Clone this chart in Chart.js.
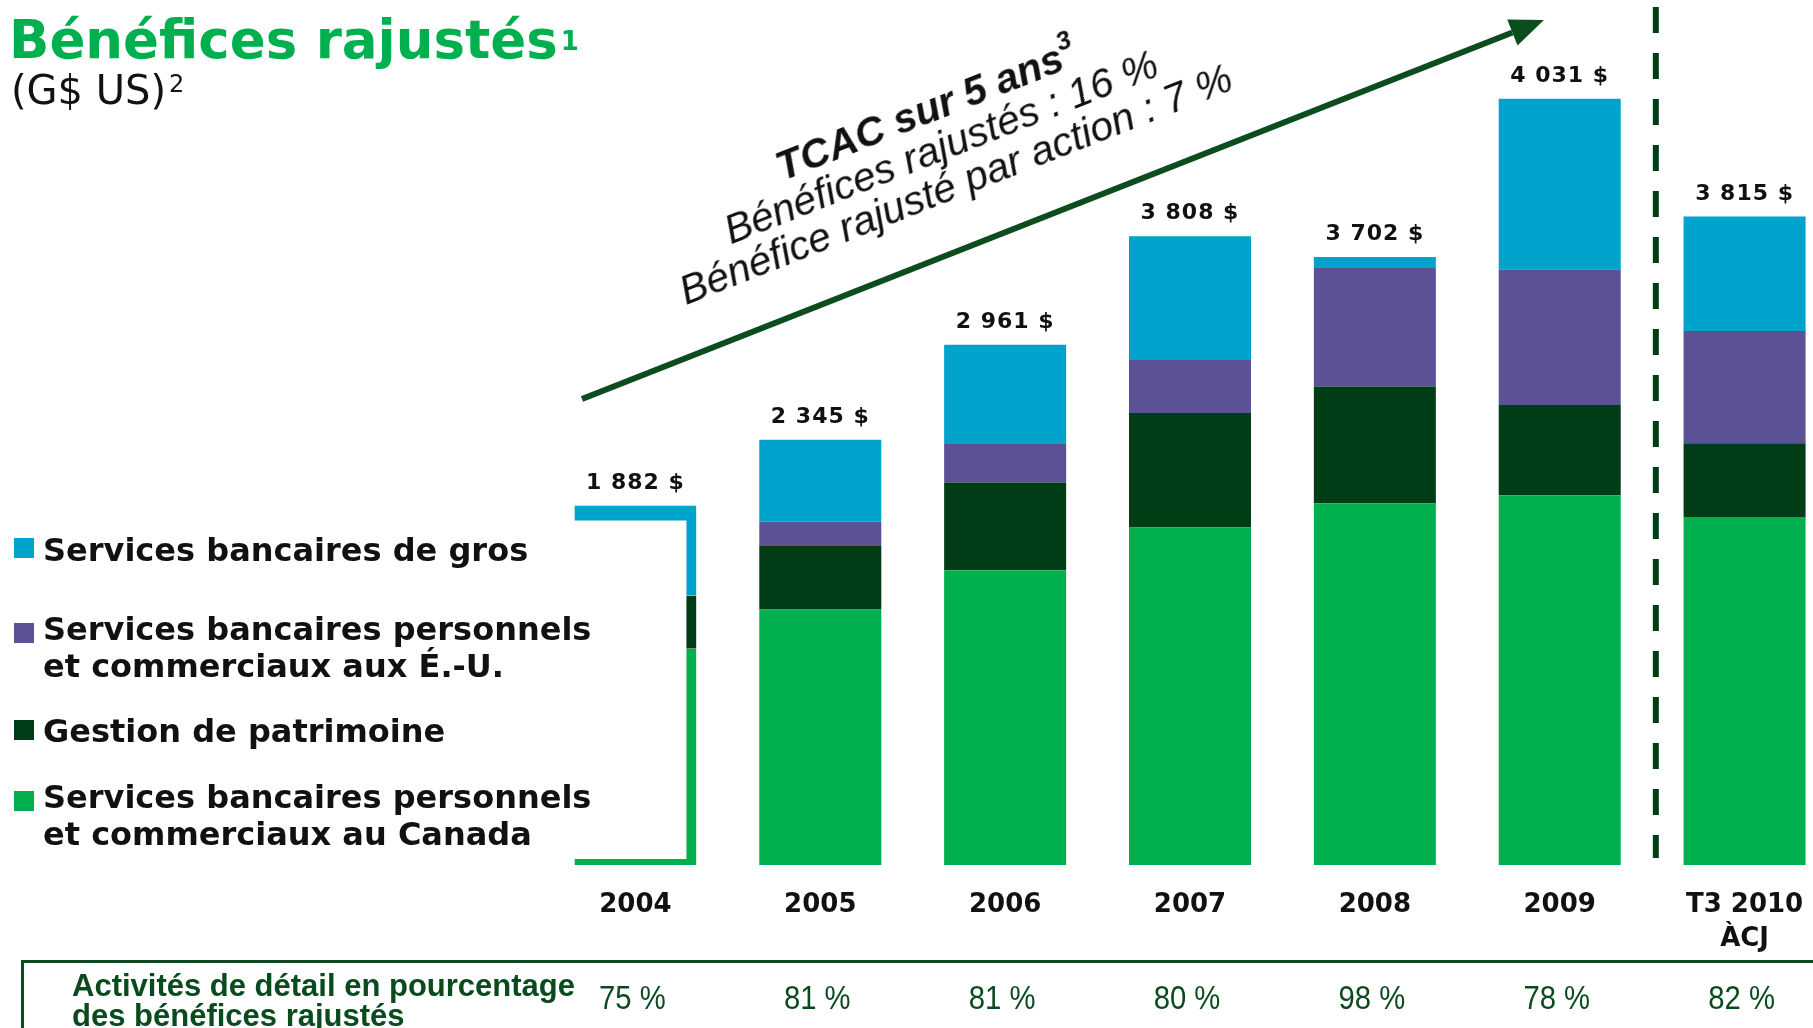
<!DOCTYPE html>
<html lang="fr">
<head>
<meta charset="utf-8">
<title>Bénéfices rajustés</title>
<script src="https://cdn.jsdelivr.net/npm/chart.js@4.4.0/dist/chart.umd.min.js"></script>
<style>
    html, body { margin: 0; padding: 0; width: 1813px; height: 1028px; overflow: hidden; background: #fff; }
    #wrap { position: relative; width: 1813px; height: 1028px; overflow: hidden; }
    #chart { position: absolute; left: 0; top: 0; }
    .title { position: absolute; left: 9px; top: 13px; font: bold 53px/53px "DejaVu Sans"; color: #00b04f; white-space: nowrap; }
    .title sup { font-size: 26px; vertical-align: top; position: relative; top: 2px; margin-left: 3px; }
    .subtitle { position: absolute; left: 11px; top: 70px; font: 40px/40px "DejaVu Sans"; color: #111; white-space: nowrap; }
    .subtitle sup { font-size: 24px; vertical-align: top; position: relative; top: -6px; margin-left: 3px; }
    .legend-item { position: absolute; left: 43px; font: bold 32px/37px "DejaVu Sans"; color: #111; white-space: nowrap; }
    .swatch { position: absolute; left: 14px; width: 20px; height: 20px; }
    .cagr { position: absolute; left: 579px; top: 77px; width: 720px; text-align: center;
            font: italic 41px/40px "Liberation Sans"; color: #111; transform: rotate(-21.5deg); transform-origin: 50% 50%; white-space: nowrap; }
    .cagr b sup { font-size: 26px; position: relative; top: -4px; }
    .table-box { position: absolute; left: 21px; top: 960px; width: 1800px; height: 80px;
                 border-top: 3px solid #0a4b1e; border-left: 3px solid #0a4b1e; }
    .table-head { position: absolute; left: 72px; top: 971px; font: bold 31px/30px "Liberation Sans"; color: #0a4b1e; white-space: nowrap; }
</style>
</head>
<body>
<div id="wrap">
    <canvas id="chart" width="1837" height="1028"></canvas>

    <div class="title">Bénéfices rajustés<sup>1</sup></div>
    <div class="subtitle">(G$ US)<sup>2</sup></div>

    <div class="swatch" style="top:538px; background:#00a3cc;"></div>
    <div class="legend-item" style="top:532px;">Services bancaires de gros</div>
    <div class="swatch" style="top:623px; background:#5a5294;"></div>
    <div class="legend-item" style="top:611px;">Services bancaires personnels<br>et commerciaux aux É.-U.</div>
    <div class="swatch" style="top:720px; background:#003d16;"></div>
    <div class="legend-item" style="top:713px;">Gestion de patrimoine</div>
    <div class="swatch" style="top:791px; background:#00b04f;"></div>
    <div class="legend-item" style="top:779px;">Services bancaires personnels<br>et commerciaux au Canada</div>

    <div class="cagr"><b>TCAC sur 5 ans<sup>3</sup></b><br>Bénéfices rajustés : 16 %<br>Bénéfice rajusté par action : 7 %</div>

    <div class="table-box"></div>
    <div class="table-head">Activités de détail en pourcentage<br>des bénéfices rajustés</div>
</div>

<script>
    // Categories and tick labels
    const categories = ["2004", "2005", "2006", "2007", "2008", "2009", ["T3 2010", "ÀCJ"]];

    // Segment values (M$ US), bottom to top
    const canada    = [1135, 1341, 1548, 1772, 1900, 1942, 1827];
    const wealth    = [279, 334, 461, 601, 613, 473, 388];
    const usRetail  = [0, 127, 206, 279, 625, 710, 589];
    const wholesale = [473, 431, 516, 649, 55, 898, 601];

    // Labels printed above the bars and in the table
    const totals = ["1 882 $", "2 345 $", "2 961 $", "3 808 $", "3 702 $", "4 031 $", "3 815 $"];
    const retailShare = ["75 %", "81 %", "81 %", "80 %", "98 %", "78 %", "82 %"];

    const colors = {
        canada: "#00b04f",
        wealth: "#003d16",
        usRetail: "#5a5294",
        wholesale: "#00a3cc"
    };

    // 2004 is drawn as an open outline (top, right and bottom edges only)
    function makeDataset(label, data, color, edge) {
        return {
            label: label,
            data: data,
            backgroundColor: ctx => ctx.dataIndex === 0 ? "rgba(0,0,0,0)" : color,
            borderColor: color,
            borderWidth: ctx => ctx.dataIndex === 0
                ? { left: 0, right: 10, top: edge === "top" ? 15 : 0, bottom: edge === "bottom" ? 6 : 0 }
                : 0,
            borderSkipped: false,
            barPercentage: 0.66,
            categoryPercentage: 1
        };
    }

    const overlayPlugin = {
        id: "overlay",
        afterDatasetsDraw(chart) {
            const { ctx, scales: { x, y } } = chart;
            ctx.save();
            ctx.textAlign = "center";
            ctx.textBaseline = "alphabetic";

            // totals above each stack
            ctx.fillStyle = "#111";
            ctx.font = 'bold 22px "DejaVu Sans"';
            ctx.letterSpacing = "1px";
            categories.forEach((c, i) => {
                const sum = canada[i] + wealth[i] + usRetail[i] + wholesale[i];
                ctx.fillText(totals[i], x.getPixelForValue(i), y.getPixelForValue(sum) - 17);
            });
            ctx.letterSpacing = "0px";

            // category labels
            ctx.font = 'bold 26px "DejaVu Sans"';
            categories.forEach((c, i) => {
                const lines = Array.isArray(c) ? c : [c];
                lines.forEach((t, k) => ctx.fillText(t, x.getPixelForValue(i), 912 + k * 34));
            });

            // retail share row (condensed)
            ctx.fillStyle = "#0a4b1e";
            ctx.font = '34px "Liberation Sans"';
            retailShare.forEach((t, i) => {
                ctx.save();
                ctx.translate(x.getPixelForValue(i) - 3, 1009);
                ctx.scale(0.86, 1);
                ctx.fillText(t, 0, 0);
                ctx.restore();
            });

            // dashed divider before the year-to-date bar
            const dx = x.getPixelForValue(5.52);
            ctx.strokeStyle = "#003d16";
            ctx.lineWidth = 6;
            ctx.setLineDash([26, 20]);
            ctx.beginPath();
            ctx.moveTo(dx, 7);
            ctx.lineTo(dx, 858);
            ctx.stroke();
            ctx.setLineDash([]);

            // growth arrow
            const x0 = 582, y0 = 399, x1 = 1544, y1 = 20;
            const len = Math.hypot(x1 - x0, y1 - y0);
            const ux = (x1 - x0) / len, uy = (y1 - y0) / len;
            const head = 34, half = 14;
            ctx.strokeStyle = "#0b4d1f";
            ctx.fillStyle = "#0b4d1f";
            ctx.lineWidth = 6;
            ctx.beginPath();
            ctx.moveTo(x0, y0);
            ctx.lineTo(x1 - ux * head, y1 - uy * head);
            ctx.stroke();
            ctx.beginPath();
            ctx.moveTo(x1, y1);
            ctx.lineTo(x1 - ux * head - uy * half, y1 - uy * head + ux * half);
            ctx.lineTo(x1 - ux * head + uy * half, y1 - uy * head - ux * half);
            ctx.closePath();
            ctx.fill();

            ctx.restore();
        }
    };

    new Chart(document.getElementById("chart").getContext("2d"), {
        type: "bar",
        data: {
            labels: categories,
            datasets: [
                makeDataset("Services bancaires personnels et commerciaux au Canada", canada, colors.canada, "bottom"),
                makeDataset("Gestion de patrimoine", wealth, colors.wealth, null),
                makeDataset("Services bancaires personnels et commerciaux aux É.-U.", usRetail, colors.usRetail, null),
                makeDataset("Services bancaires de gros", wholesale, colors.wholesale, "top")
            ]
        },
        options: {
            responsive: false,
            devicePixelRatio: 1,
            animation: false,
            layout: { padding: { left: 543, right: 0, top: 27, bottom: 163 } },
            plugins: {
                legend: { display: false },
                tooltip: { enabled: false }
            },
            scales: {
                x: { display: false, stacked: true },
                y: { display: false, stacked: true, min: 0, max: 4400 }
            }
        },
        plugins: [overlayPlugin]
    });
</script>
</body>
</html>
